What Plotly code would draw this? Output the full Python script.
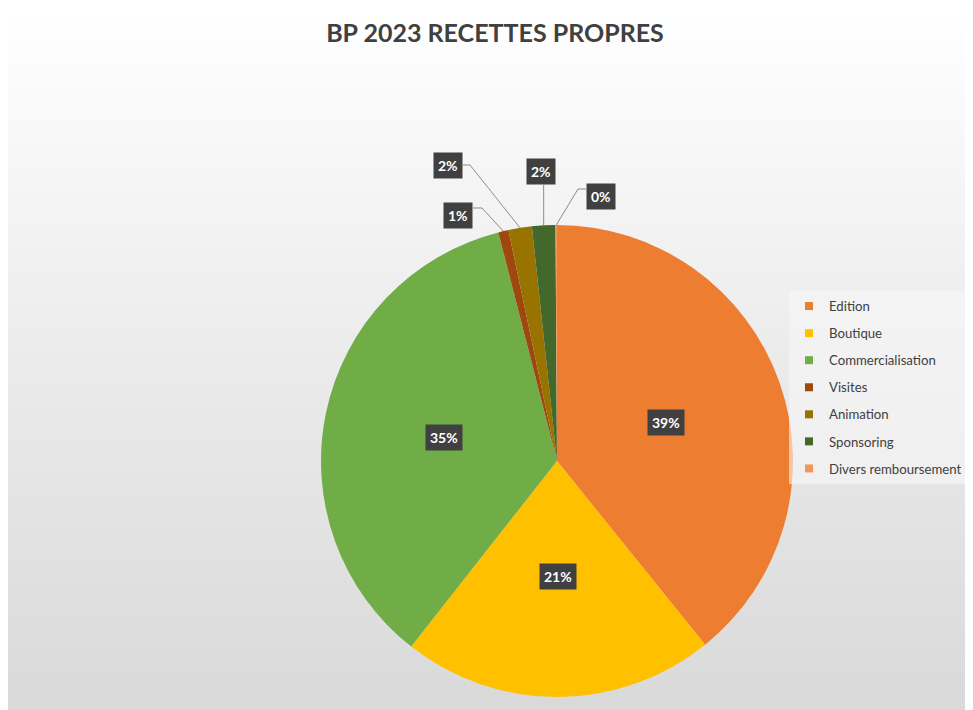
import math
import plotly.graph_objects as go

# ---- data ----
categories = ["Edition", "Boutique", "Commercialisation", "Visites",
              "Animation", "Sponsoring", "Divers remboursement"]
values = [39.2, 21.4, 35.4, 0.7, 1.6, 1.6, 0.1]
colors = ["#ED7D31", "#FFC000", "#70AD47", "#9E480E",
          "#997300", "#43682B", "#F1975A"]
title_text = "BP 2023 RECETTES PROPRES"

# ---- layout geometry (page pixels; page has an 8px body margin) ----
OFF = 8
W, H = 973 - OFF, 710 - OFF
CX, CY, R = 557, 461, 236
FONT = "Lato"


def px(x):
    return (x - OFF) / W


def py(y):
    return 1 - (y - OFF) / H


fig = go.Figure()

# background gradient panel
fig.add_trace(go.Scatter(
    x=[0, 1, 1, 0, 0], y=[0, 0, py(9), py(9), 0],
    fill="toself", mode="lines", line=dict(width=0),
    fillgradient=dict(type="vertical",
                      colorscale=[[0, "#d9d9d9"], [0.5, "#ebebeb"], [1, "#ffffff"]]),
    hoverinfo="skip", showlegend=False))

# pie
fig.add_trace(go.Pie(
    labels=categories, values=values,
    marker=dict(colors=colors, line=dict(width=0)),
    sort=False, direction="clockwise", rotation=0,
    textinfo="none", hoverinfo="label+percent", showlegend=False,
    domain=dict(x=[px(CX - R), px(CX + R)], y=[py(CY + R), py(CY - R)])))

# legend entries
for name, col in zip(categories, colors):
    fig.add_trace(go.Scatter(
        x=[None], y=[None], mode="markers", name=name, legendgroup=name,
        marker=dict(symbol="square", size=8, color=col), showlegend=True))

# ---- data labels ----
total = sum(values)
pcts = [round(v / total * 100) for v in values]
mids = []
cum = 0
for v in values:
    a0 = cum / total * 360
    cum += v
    a1 = cum / total * 360
    mids.append((a0 + a1) / 2)


def polar(theta, r):
    t = math.radians(theta)
    return CX + r * math.sin(t), CY - r * math.cos(t)


annotations = []
shapes = []


def label(x, y, text, xanchor="center", yanchor="middle"):
    annotations.append(dict(xref="paper", yref="paper", x=px(x), y=py(y),
                            xanchor=xanchor, yanchor=yanchor, showarrow=False,
                            borderpad=4, text="<b>%s</b>" % text,
                            font=dict(family=FONT, size=14, color="white"),
                            bgcolor="#404040"))


outside = {
    3: dict(elbow=(482, 208), end=(473, 208), box=(473, 215, "right", "middle")),
    4: dict(elbow=(470, 165), end=(463, 165), box=(463, 166, "right", "middle")),
    5: dict(elbow=None, end=None, box=(541, 185, "center", "bottom")),
    6: dict(elbow=(578, 189), end=(586, 189), box=(586, 196, "left", "middle")),
}

for i, (p, m) in enumerate(zip(pcts, mids)):
    txt = "%d%%" % p
    if i in outside:
        o = outside[i]
        sx, sy = polar(m, R)
        if o["elbow"] is None:
            path = "M %f,%f L %f,%f" % (px(sx), py(sy), px(sx), py(o["box"][1]))
        else:
            ex, ey = o["elbow"]
            fx, fy = o["end"]
            path = "M %f,%f L %f,%f L %f,%f" % (px(sx), py(sy), px(ex), py(ey), px(fx), py(fy))
        shapes.append(dict(type="path", xref="paper", yref="paper", path=path,
                           line=dict(color="#8c8c8c", width=1)))
        bx, by, xa, ya = o["box"]
        label(bx, by, txt, xa, ya)
    else:
        lx, ly = polar(m, 0.49 * R)
        label(lx, ly, txt)

fig.update_layout(
    width=W, height=H,
    margin=dict(l=0, r=0, t=0, b=0),
    paper_bgcolor="white", plot_bgcolor="rgba(0,0,0,0)",
    font=dict(family=FONT, color="#404040"),
    title=dict(text="<b>%s</b>" % title_text, x=px(495), y=py(33),
               xanchor="center", yanchor="middle",
               font=dict(family=FONT, size=25, color="#404040")),
    xaxis=dict(range=[0, 1], visible=False, fixedrange=True),
    yaxis=dict(range=[0, 1], visible=False, fixedrange=True),
    legend=dict(x=px(789), y=py(291), xanchor="left", yanchor="top",
                bgcolor="rgba(247,247,247,0.6)", tracegroupgap=6.9,
                font=dict(family=FONT, size=13.2, color="#404040")),
    annotations=annotations, shapes=shapes,
)

fig.write_html("out.html")
